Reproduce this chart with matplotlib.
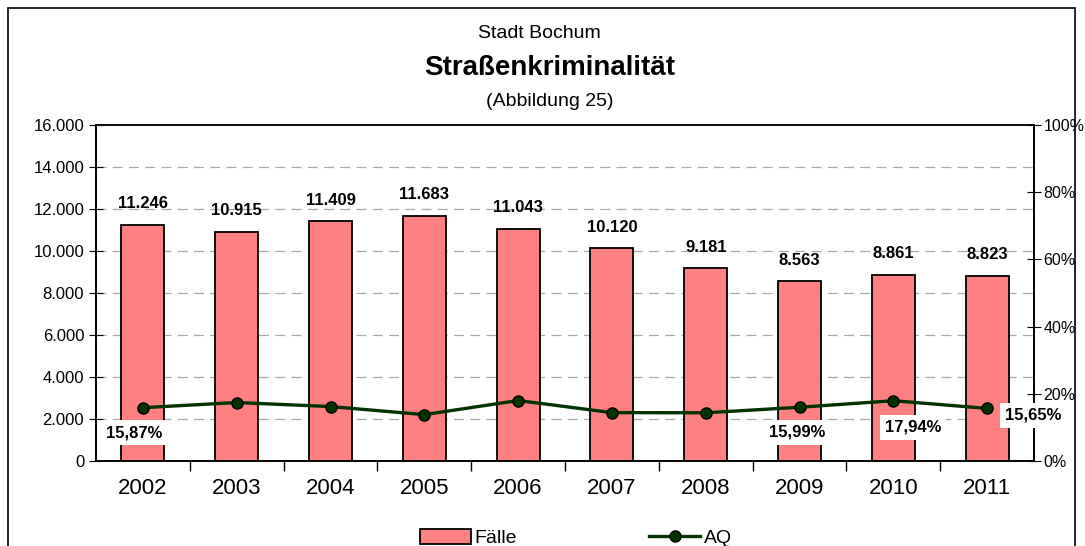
import matplotlib.pyplot as plt
from matplotlib.ticker import FuncFormatter, MultipleLocator
from matplotlib.lines import Line2D
from matplotlib.patches import Patch
import matplotlib.patches as mpatches

plt.rcParams['font.family'] = ['Liberation Sans', 'DejaVu Sans']

years = ["2002", "2003", "2004", "2005", "2006", "2007", "2008", "2009", "2010", "2011"]
faelle = [11246, 10915, 11409, 11683, 11043, 10120, 9181, 8563, 8861, 8823]
aq = [15.87, 17.4, 16.2, 13.8, 18.0, 14.4, 14.35, 15.99, 17.94, 15.65]
# only some AQ values carry a label in the original (offsets in points)
aq_labels = {0: (-6.5, -18), 7: (-2, -18), 8: (14, -19), 9: (33, -5)}

def de_int(v, pos=None):
    return f"{v:,.0f}".replace(",", ".")

fig = plt.figure(figsize=(10.85, 5.46), dpi=100)
ax = fig.add_axes([0.0885, 0.1557, 0.8645, 0.6153])
ax2 = ax.twinx()

x = list(range(len(years)))
ax.bar(x, faelle, width=0.46, color="#FF8080", edgecolor="black", linewidth=1.3, zorder=2)
for i, v in enumerate(faelle):
    ax.text(i, v + 650, de_int(v), ha="center", va="bottom", fontsize=12,
            fontweight="bold", zorder=4)

ax.set_ylim(0, 16000)
ax.set_xlim(-0.5, len(years) - 0.5)
ax.yaxis.set_major_locator(MultipleLocator(2000))
ax.yaxis.set_major_formatter(FuncFormatter(de_int))
for g in range(2000, 16000, 2000):
    ax.axhline(g, color="#A8A8A8", linestyle=(0, (8, 5)), linewidth=0.9, zorder=1)

ax.set_xticks(x)
ax.set_xticklabels(years, fontsize=16)
ax.set_xticks([i + 0.5 for i in x[:-1]], minor=True)
ax.tick_params(axis="x", which="major", length=0, pad=12)
ax.tick_params(axis="x", which="minor", length=7, direction="out", width=1)
ax.tick_params(axis="y", direction="inout", length=10, labelsize=12)

ax2.plot(x, aq, color="#003300", linewidth=2.4, marker="o", markersize=8,
         markerfacecolor="#003300", markeredgecolor="black", markeredgewidth=1, zorder=5)
ax2.set_ylim(0, 100)
ax2.yaxis.set_major_locator(MultipleLocator(20))
ax2.yaxis.set_major_formatter(FuncFormatter(lambda v, p: f"{v:.0f}%"))
ax2.tick_params(axis="y", direction="inout", length=10, labelsize=11.5, pad=2)
for i, (dx, dy) in aq_labels.items():
    ax2.annotate(f"{aq[i]:.2f}%".replace(".", ","), (i, aq[i]), xytext=(dx, dy),
                 textcoords="offset points", ha="center", va="center", fontsize=12,
                 fontweight="bold", zorder=6,
                 bbox=dict(boxstyle="square,pad=0.3", facecolor="white", edgecolor="none"))

for a in (ax, ax2):
    for s in a.spines.values():
        s.set_linewidth(1.2)
ax.spines["top"].set_color("#555555")

fig.text(0.497, 1 - 33 / 546, "Stadt Bochum", ha="center", va="center", fontsize=14)
fig.text(0.507, 1 - 68 / 546, "Straßenkriminalität", ha="center", va="center",
         fontsize=20, fontweight="bold")
fig.text(0.507, 1 - 102 / 546, "(Abbildung 25)", ha="center", va="center", fontsize=14)

# outer chart frame
fig.patches.append(mpatches.Rectangle((8 / 1085, -0.05), 1067 / 1085, 1.05 - 8 / 546,
                                      transform=fig.transFigure, fill=False,
                                      edgecolor="black", linewidth=1.2))

handles = [Patch(facecolor="#FF8080", edgecolor="black", linewidth=1.3),
           Line2D([0], [0], color="#003300", linewidth=2.4, marker="o", markersize=8,
                  markerfacecolor="#003300", markeredgecolor="black")]
fig.legend(handles, ["Fälle", "AQ"], loc="center", bbox_to_anchor=(0.531, 1 - 538 / 546),
           ncol=2, frameon=False, fontsize=14, handlelength=2.6, handletextpad=0.2,
           columnspacing=6.8, handleheight=0.8)

fig.savefig("out.png", dpi=100)
